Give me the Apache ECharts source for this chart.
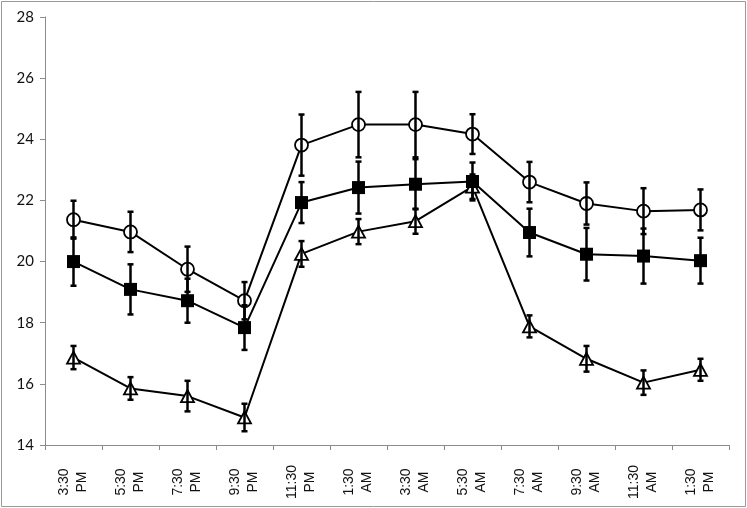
<!DOCTYPE html>
<html><head><meta charset="utf-8">
<script src="https://cdn.jsdelivr.net/npm/echarts@6/dist/echarts.min.js"></script>
<style>html,body{margin:0;padding:0;background:#fff}#c{width:747px;height:508px}</style>
</head><body><div id="c"></div>
<script>
const categories = ['3:30\nPM','5:30\nPM','7:30\nPM','9:30\nPM','11:30\nPM','1:30\nAM','3:30\nAM','5:30\nAM','7:30\nAM','9:30\nAM','11:30\nAM','1:30\nPM'];
const circleMean = [21.37, 20.97, 19.75, 18.72, 23.81, 24.48, 24.48, 24.17, 22.6, 21.9, 21.65, 21.69];
const circleErr = [0.62, 0.66, 0.74, 0.61, 1.0, 1.07, 1.07, 0.65, 0.66, 0.69, 0.75, 0.67];
const squareMean = [20.0, 19.09, 18.72, 17.84, 21.93, 22.42, 22.53, 22.62, 20.95, 20.24, 20.18, 20.03];
const squareErr = [0.79, 0.82, 0.72, 0.73, 0.67, 0.85, 0.82, 0.62, 0.78, 0.86, 0.9, 0.75];
const triangleMean = [16.86, 15.85, 15.6, 14.9, 20.25, 20.98, 21.32, 22.45, 17.88, 16.82, 16.04, 16.46];
const triangleErr = [0.38, 0.37, 0.5, 0.45, 0.42, 0.41, 0.41, 0.4, 0.36, 0.42, 0.4, 0.36];
const yTicks = {min: 14, max: 28, interval: 2};

const chart = echarts.init(document.getElementById('c'), null, {renderer: 'canvas'});

function errSeries(name, mean, err, z) {
  return {
    type: 'custom', name: name + ' error', z: z, silent: true,
    data: mean.map((m, i) => [i, m - err[i], m + err[i]]),
    renderItem: function (params, api) {
      const lo = api.coord([api.value(0), api.value(1)]);
      const hi = api.coord([api.value(0), api.value(2)]);
      const x = lo[0], cw = 3;
      const st = {stroke: '#000', lineWidth: 2.5};
      return {type: 'group', children: [
        {type: 'line', shape: {x1: x, y1: lo[1], x2: x, y2: hi[1]}, style: st},
        {type: 'line', shape: {x1: x - cw, y1: lo[1], x2: x + cw, y2: lo[1]}, style: st},
        {type: 'line', shape: {x1: x - cw, y1: hi[1], x2: x + cw, y2: hi[1]}, style: st}
      ]};
    }
  };
}

function lineSeries(name, mean, symbol, size, fill, z) {
  return {
    type: 'line', name: name, data: mean, z: z,
    symbol: symbol, symbolSize: size, showAllSymbol: true,
    lineStyle: {color: '#000', width: 2},
    itemStyle: {color: fill, borderColor: '#000', borderWidth: fill === '#000' ? 0 : 1.8},
    emphasis: {disabled: true}, animation: false
  };
}

chart.setOption({
  animation: false,
  backgroundColor: '#fff',
  graphic: [{type: 'rect', shape: {x: 1.5, y: 1.5, width: 744, height: 505}, style: {fill: 'none', stroke: '#9a9a9a', lineWidth: 1}, z: 0}],
  grid: {left: 45, right: 18, top: 17, bottom: 63},
  xAxis: {
    type: 'category', data: categories, boundaryGap: true,
    axisLine: {lineStyle: {color: '#8c8c8c', width: 1}},
    axisTick: {show: true, length: 5, lineStyle: {color: '#8c8c8c'}},
    axisLabel: {rotate: 90, align: 'center', verticalAlign: 'middle', margin: 37, lineHeight: 18,
      fontFamily: 'Liberation Sans', fontSize: 14, color: '#111'}
  },
  yAxis: {
    type: 'value', min: yTicks.min, max: yTicks.max, interval: yTicks.interval,
    splitLine: {show: false},
    axisLine: {show: true, lineStyle: {color: '#8c8c8c', width: 1}},
    axisTick: {show: true, length: 5, lineStyle: {color: '#8c8c8c'}},
    axisLabel: {fontFamily: 'Lato', fontSize: 15, color: '#111', margin: 11}
  },
  series: [
    lineSeries('Circle', circleMean, 'circle', 13, '#fff', 2),
    lineSeries('Triangle', triangleMean, 'triangle', [13, 12], '#fff', 3),
    lineSeries('Square', squareMean, 'rect', 13, '#000', 4),
    errSeries('Circle', circleMean, circleErr, 10),
    errSeries('Triangle', triangleMean, triangleErr, 10),
    errSeries('Square', squareMean, squareErr, 10)
  ]
});
</script></body></html>
